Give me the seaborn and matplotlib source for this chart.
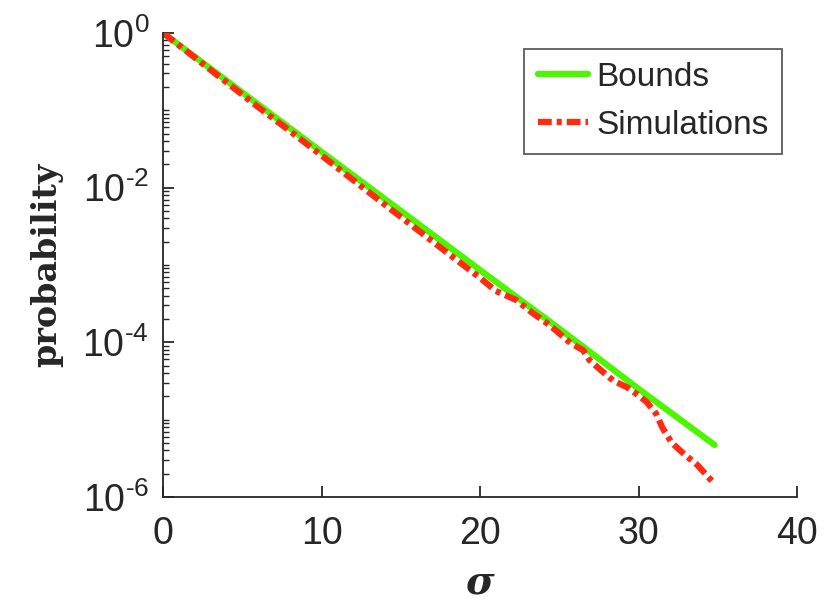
import seaborn as sns
import numpy as np
import matplotlib.pyplot as plt
import matplotlib.ticker as mticker
import pandas as pd

# sigma values and the two curves
sigma_bound = [0, 5, 10, 15, 20, 25, 30, 34.8]
bound = [1.0, 1.7e-1, 2.9e-2, 5.0e-3, 8.6e-4, 1.5e-4, 2.5e-5, 4.7e-6]

sigma_sim = [0, 2, 4, 6, 8, 10, 12, 14, 16, 18, 20, 21, 22.3, 23.3, 24.4, 25.7,
             26.5, 26.9, 27.6, 28.4, 29.3, 29.8, 30.5, 31.1, 31.5, 32.1, 32.8,
             33.7, 34.7]
sim = [1.0, 4.8e-1, 2.3e-1, 1.1e-1, 5.4e-2, 2.6e-2, 1.25e-2, 6.0e-3, 2.9e-3,
       1.4e-3, 6.8e-4, 4.6e-4, 3.5e-4, 2.4e-4, 1.66e-4, 9.8e-5, 7.9e-5, 5.9e-5,
       4.4e-5, 3.2e-5, 2.6e-5, 2.2e-5, 1.7e-5, 1.2e-5, 7.9e-6, 5.0e-6, 3.7e-6,
       2.6e-6, 1.55e-6]

df_b = pd.DataFrame({"sigma": sigma_bound, "p": bound})
df_s = pd.DataFrame({"sigma": sigma_sim, "p": sim})

sns.set_style("white")
plt.rcParams['font.family'] = ['Liberation Sans', 'DejaVu Sans']
plt.rcParams['mathtext.default'] = 'regular'
plt.rcParams['axes.unicode_minus'] = False

fig = plt.figure(figsize=(8.25, 6.09), dpi=100)
ax = fig.add_axes([0.1976, 0.184, 0.7685, 0.762])

sns.lineplot(data=df_b, x="sigma", y="p", ax=ax, color="#4cf500", lw=4.5,
             label="Bounds")
sns.lineplot(data=df_s, x="sigma", y="p", ax=ax, color="#ff2a10", lw=4.5,
             linestyle=(0, (2.2, 0.8, 0.8, 0.8)), label="Simulations")

ax.set_yscale("log")
ax.set_xlim(0, 40)
ax.set_ylim(1e-6, 1)
ax.set_xticks([0, 10, 20, 30, 40])
ax.yaxis.set_major_locator(mticker.FixedLocator([1e-6, 1e-4, 1e-2, 1]))
ax.yaxis.set_major_formatter(mticker.FuncFormatter(
    lambda v, p: "$10^{%s}$" % str(round(np.log10(v))).replace("-", "\u2010")))
ax.yaxis.set_minor_locator(mticker.LogLocator(base=10, subs=np.arange(1, 10), numticks=20))
ax.yaxis.set_minor_formatter(mticker.NullFormatter())

for s in ["top", "right"]:
    ax.spines[s].set_visible(False)
for s in ["left", "bottom"]:
    ax.spines[s].set_color("#262626")
    ax.spines[s].set_linewidth(1.3)
ax.tick_params(axis="both", which="major", direction="in", length=8, width=1.3,
               labelsize=27, colors="#262626", bottom=True, left=True)
ax.tick_params(axis="x", which="major", pad=14)
ax.tick_params(axis="y", which="major", pad=10)
ax.tick_params(axis="y", which="minor", direction="in", length=4.5, width=1,
               colors="#262626", left=True)
ax.tick_params(axis="x", which="minor", bottom=False)

ax.set_xlabel("σ", fontsize=28, family="DejaVu Serif", style="italic",
              fontweight="bold", labelpad=8)
ax.set_ylabel("probability", fontsize=24, family="DejaVu Serif",
              fontweight="bold", labelpad=14)

leg = ax.legend(loc="upper right", bbox_to_anchor=(0.976, 0.966), fontsize=24,
                frameon=True, fancybox=False, handlelength=1.5,
                handletextpad=0.25, borderpad=0.4, labelspacing=0.5,
                borderaxespad=0.0)
leg.get_frame().set_edgecolor("#333333")
leg.get_frame().set_linewidth(1.3)

fig.savefig("out.png", dpi=100)
